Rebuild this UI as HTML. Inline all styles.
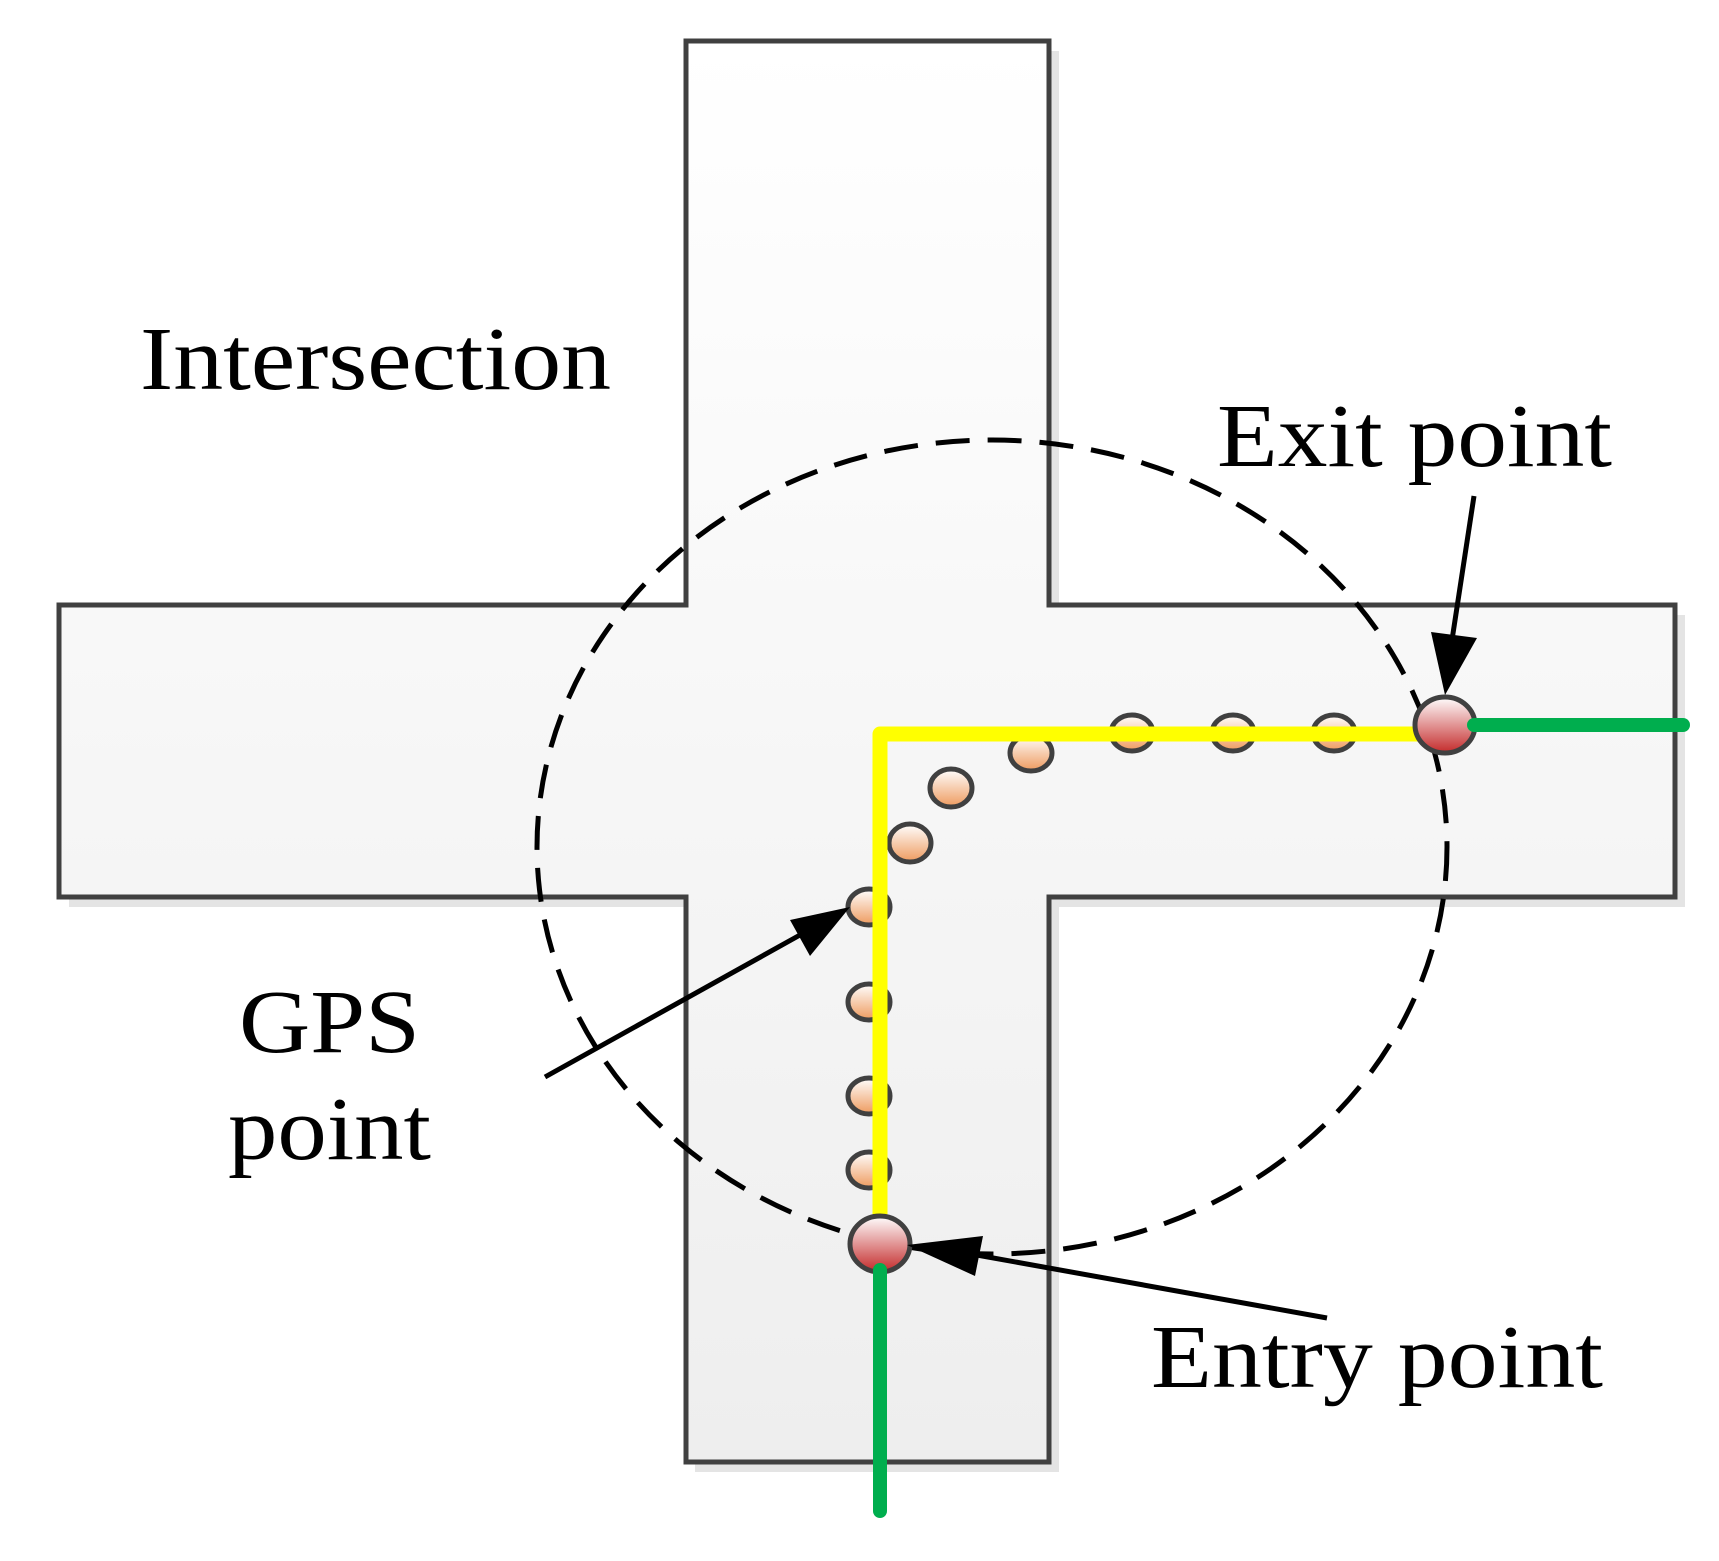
<!DOCTYPE html>
<html><head><meta charset="utf-8"><style>html,body{margin:0;padding:0;background:#fff}svg{display:block}</style></head>
<body>
<svg width="1719" height="1561" viewBox="0 0 1719 1561" xmlns="http://www.w3.org/2000/svg">
<defs>
<linearGradient id="bg" x1="0" y1="0" x2="0" y2="1"><stop offset="0" stop-color="#ffffff"/><stop offset="1" stop-color="#eeeeee"/></linearGradient>
<linearGradient id="og" x1="0" y1="0" x2="0" y2="1"><stop offset="0" stop-color="#ffffff"/><stop offset="1" stop-color="#ee9a5e"/></linearGradient>
<linearGradient id="rg" x1="0" y1="0" x2="0" y2="1"><stop offset="0" stop-color="#ffffff"/><stop offset="1" stop-color="#c42a2a"/></linearGradient>
</defs>
<path d="M695,51 H1059 V615 H1685 V907 H1059 V1472 H695 V907 H69 V615 H695 Z" fill="#e4e4e4"/>
<path d="M686,41 H1049 V605 H1675 V897 H1049 V1462 H686 V897 H59 V605 H686 Z" fill="url(#bg)" stroke="#404040" stroke-width="5"/>
<ellipse cx="992" cy="847" rx="455" ry="407" fill="none" stroke="#000" stroke-width="5" stroke-dasharray="34,18"/>
<g stroke="#404040" stroke-width="5" fill="url(#og)">
<ellipse cx="1132" cy="733" rx="21" ry="18"/><ellipse cx="1233" cy="733" rx="21" ry="18"/><ellipse cx="1334" cy="733" rx="21" ry="18"/>
<ellipse cx="1031" cy="753" rx="21" ry="18"/><ellipse cx="951" cy="788" rx="21" ry="19"/><ellipse cx="910" cy="843" rx="21" ry="19"/>
<ellipse cx="869" cy="907" rx="21" ry="18"/><ellipse cx="869" cy="1002" rx="21" ry="18"/><ellipse cx="869" cy="1096" rx="21" ry="18"/><ellipse cx="869" cy="1170" rx="21" ry="18"/>
</g>
<path d="M880,1242 V734 H1423" fill="none" stroke="#ffff00" stroke-width="15" stroke-linejoin="round" stroke-linecap="round"/>
<g stroke="#404040" stroke-width="5" fill="url(#rg)">
<ellipse cx="1445" cy="725" rx="30" ry="28"/><ellipse cx="880" cy="1244" rx="30" ry="28"/>
</g>
<g stroke="#00ae4e" stroke-width="14" stroke-linecap="round">
<line x1="1474" y1="725" x2="1683" y2="725"/><line x1="880" y1="1270" x2="880" y2="1511"/>
</g>
<g stroke="#000" stroke-width="5">
<line x1="1474" y1="496" x2="1452" y2="640"/><line x1="1327" y1="1318" x2="960" y2="1252"/><line x1="545" y1="1077" x2="800" y2="935"/>
</g>
<polygon points="1445,695 1431,632 1477,638" fill="#000"/>
<polygon points="907,1245 983,1236 975,1276" fill="#000"/>
<polygon points="850,907 810,956 790,920" fill="#000"/>
<g font-family="Liberation Serif, serif" font-size="90" fill="#000">
<text x="140" y="389" textLength="471" lengthAdjust="spacingAndGlyphs">Intersection</text>
<text x="1217" y="466" textLength="395" lengthAdjust="spacingAndGlyphs">Exit point</text>
<text x="239" y="1052" textLength="181" lengthAdjust="spacingAndGlyphs">GPS</text>
<text x="228" y="1159" textLength="203" lengthAdjust="spacingAndGlyphs">point</text>
<text x="1151" y="1387" textLength="452" lengthAdjust="spacingAndGlyphs">Entry point</text>
</g>
</svg>
</body></html>
